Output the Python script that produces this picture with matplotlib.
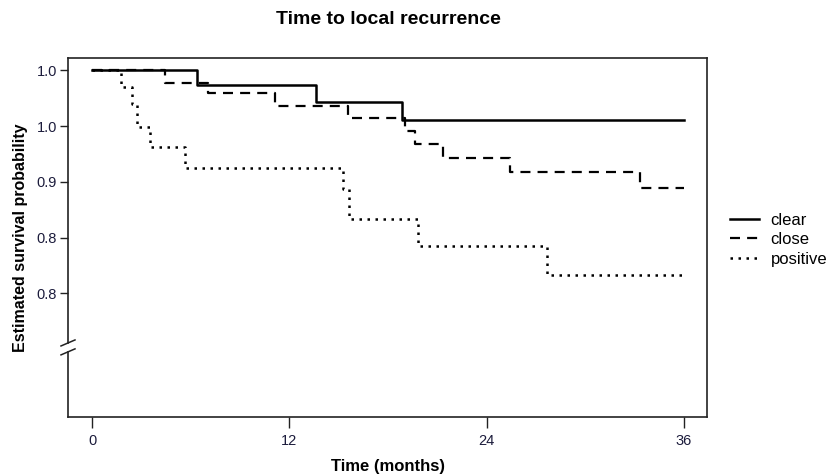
import matplotlib
matplotlib.use("Agg")
import matplotlib.pyplot as plt
from matplotlib.lines import Line2D

# ---- data ----
clear_t = [0, 6.39, 13.63, 18.84, 36]
clear_s = [1.000, 0.9866, 0.9716, 0.9552, 0.9552]

close_t = [0, 4.44, 7.06, 11.13, 15.57, 19.04, 19.65, 21.33, 25.43, 33.33, 36]
close_s = [1.000, 0.989, 0.9794, 0.9683, 0.957, 0.9456, 0.9336, 0.9211, 0.9085, 0.8942, 0.8942]

positive_t = [0, 1.75, 2.41, 2.72, 3.53, 5.66, 15.29, 15.63, 19.85, 27.66, 36]
positive_s = [1.000, 0.985, 0.970, 0.949, 0.931, 0.9128, 0.894, 0.867, 0.8427, 0.8164, 0.8164]

groups = ["clear", "close", "positive"]
x_ticks = [0, 12, 24, 36]
y_ticks = [1.00, 0.95, 0.90, 0.85, 0.80]
y_tick_labels = ["1.0", "1.0", "0.9", "0.8", "0.8"]

plt.rcParams['font.family'] = ['Liberation Sans', 'DejaVu Sans']

fig = plt.figure(figsize=(8.27, 4.76), dpi=100)
ax = fig.add_axes([68/827, 1-417/476, (707-68)/827, (417-57.7)/476])

styles = {
    "clear": dict(linestyle='-', lw=1.8),
    "close": dict(linestyle=(0, (4.5, 3.2)), lw=1.6),
    "positive": dict(linestyle=(0, (1, 2.2)), lw=1.8),
}
data = {"clear": (clear_t, clear_s), "close": (close_t, close_s), "positive": (positive_t, positive_s)}
for g in groups:
    t, s = data[g]
    ax.step(t, s, where='post', color='black', **styles[g])

ax.set_xlim(-1.46, 37.41)
ax.set_ylim(0.6891, 1.0113)

ax.set_xticks(x_ticks)
ax.set_xticklabels([str(v) for v in x_ticks])
ax.set_yticks(y_ticks)
ax.set_yticklabels(y_tick_labels)
ax.tick_params(axis='x', length=8, width=1, direction='out', labelsize=10.5, colors='#222', labelcolor='#1c1c3c', pad=4)
ax.tick_params(axis='y', length=6, width=1, direction='out', labelsize=10.5, colors='#222', labelcolor='#1c1c3c', pad=2)

for sp in ['top', 'right', 'bottom']:
    ax.spines[sp].set_color('#222')
    ax.spines[sp].set_linewidth(1.2)
ax.spines['left'].set_visible(False)

# left spine with axis break
ytr = ax.get_yaxis_transform()
brk_lo, brk_hi = 0.7475, 0.7555
ax.plot([0, 0], [0.6891, brk_lo], transform=ytr, color='#222', lw=1.2, clip_on=False)
ax.plot([0, 0], [brk_hi, 1.0113], transform=ytr, color='#222', lw=1.2, clip_on=False)
dx = 7 / 639
dy = 0.0027
for yb in (brk_lo, brk_hi):
    ax.plot([-dx, dx], [yb - dy, yb + dy], transform=ytr, color='#222', lw=1.1, clip_on=False)

ax.set_ylabel("Estimated survival probability", fontsize=11.5, fontweight='bold')
ax.yaxis.set_label_coords((28-68)/639, 0.5)
ax.set_xlabel("Time (months)", fontsize=12, fontweight='bold',
              family=['Liberation Sans Narrow', 'Liberation Sans', 'DejaVu Sans'])
ax.xaxis.set_label_coords((388-68)/639, -(459-417)/359.3)

fig.text(388/827, 1-19/476, "Time to local recurrence", ha='center', va='center',
         fontsize=14, fontweight='bold')

handles = [Line2D([], [], color='black', **styles[g]) for g in groups]
fig.legend(handles, groups, loc='upper left', bbox_to_anchor=(723/827, 1-206/476),
           frameon=False, fontsize=12, handlelength=1.75, handletextpad=0.7,
           labelspacing=0.27, borderaxespad=0)

fig.savefig("out.png", dpi=100)
